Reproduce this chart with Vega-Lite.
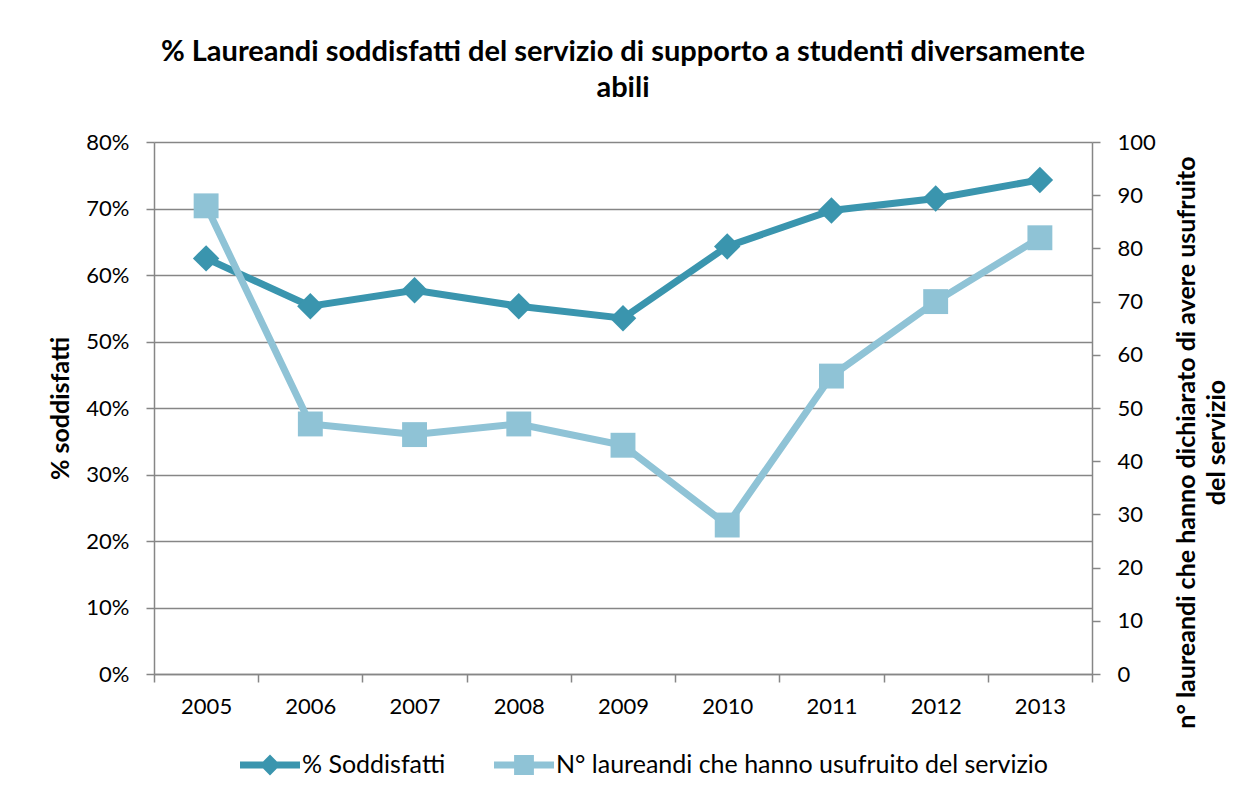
{
  "$schema": "https://vega.github.io/schema/vega-lite/v6.json",
  "autosize": {"type": "none"},
  "width": 938,
  "height": 532,
  "padding": {"left": 154, "top": 142, "right": 162, "bottom": 124},
  "background": "white",
  "config": {
    "font": "Lato",
    "view": {"stroke": null},
    "axis": {
      "labelFont": "Lato", "labelFontSize": 22, "labelColor": "#000000",
      "titleFont": "Lato", "titleFontSize": 25, "titleFontWeight": "bold", "titleColor": "#000000",
      "domainColor": "#868686", "domainWidth": 1.5,
      "tickColor": "#868686", "tickWidth": 1.5, "tickSize": 8,
      "gridColor": "#868686", "gridWidth": 1.5
    }
  },
  "title": {
    "text": ["% Laureandi soddisfatti del servizio di supporto a studenti diversamente", "abili"],
    "font": "Lato", "fontSize": 29, "fontWeight": "bold", "color": "#000000",
    "lineHeight": 36, "anchor": "middle", "frame": "group", "offset": 28
  },
  "data": {
    "values": [
      {"anno": "2005", "soddisfatti": 0.625, "laureandi": 88},
      {"anno": "2006", "soddisfatti": 0.553, "laureandi": 47},
      {"anno": "2007", "soddisfatti": 0.577, "laureandi": 45},
      {"anno": "2008", "soddisfatti": 0.553, "laureandi": 47},
      {"anno": "2009", "soddisfatti": 0.535, "laureandi": 43},
      {"anno": "2010", "soddisfatti": 0.643, "laureandi": 28},
      {"anno": "2011", "soddisfatti": 0.697, "laureandi": 56},
      {"anno": "2012", "soddisfatti": 0.715, "laureandi": 70},
      {"anno": "2013", "soddisfatti": 0.743, "laureandi": 82}
    ]
  },
  "encoding": {
    "x": {
      "field": "anno", "type": "ordinal",
      "scale": {"paddingInner": 0, "paddingOuter": 0},
      "axis": {"title": null, "labelAngle": 0, "tickBand": "extent", "labelPadding": 14, "grid": false}
    }
  },
  "layer": [
    {
      "layer": [
        {
          "mark": {"type": "line", "strokeWidth": 7},
          "encoding": {
            "y": {"field": "soddisfatti", "type": "quantitative",
              "scale": {"domain": [0, 0.8], "nice": false},
              "axis": {"title": "% soddisfatti", "format": ".0%", "values": [0, 0.1, 0.2, 0.3, 0.4, 0.5, 0.6, 0.7, 0.8], "grid": true, "labelPadding": 17, "titlePadding": 12}},
            "color": {
              "datum": "% Soddisfatti", "type": "nominal",
              "scale": {"domain": ["% Soddisfatti", "N° laureandi che hanno usufruito del servizio"], "range": ["#3A95AE", "#8FC3D6"]},
              "legend": {
                "title": null, "orient": "none", "direction": "horizontal", "legendX": 86, "legendY": 593,
                "labelFont": "Lato", "labelFontSize": 25, "labelColor": "#000000", "labelOffset": 2, "labelLimit": 0,
                "columnPadding": 48, "symbolSize": 3600, "symbolType": "circle",
                "encode": {
                  "symbols": {
                    "update": {
                      "shape": {"signal": "datum.value === '% Soddisfatti' ? 'M-1,-0.12L-0.23,-0.12L0,-0.35L0.23,-0.12L1,-0.12L1,0.12L0.23,0.12L0,0.35L-0.23,0.12L-1,0.12Z' : 'M-1,-0.12L-0.33,-0.12L-0.33,-0.33L0.33,-0.33L0.33,-0.12L1,-0.12L1,0.12L0.33,0.12L0.33,0.33L-0.33,0.33L-0.33,0.12L-1,0.12Z'"},
                      "fill": {"signal": "datum.value === '% Soddisfatti' ? '#3A95AE' : '#8FC3D6'"},
                      "fillOpacity": {"value": 1},
                      "strokeWidth": {"value": 0},
                      "size": {"value": 3600}
                    }
                  }
                }
              }
            }
          }
        },
        {
          "mark": {"type": "point", "shape": "diamond", "filled": true, "size": 700, "opacity": 1},
          "encoding": {
            "y": {"field": "soddisfatti", "type": "quantitative"},
            "color": {"datum": "% Soddisfatti", "type": "nominal"}
          }
        }
      ]
    },
    {
      "layer": [
        {
          "mark": {"type": "line", "strokeWidth": 7},
          "encoding": {
            "y": {"field": "laureandi", "type": "quantitative",
              "scale": {"domain": [0, 100], "nice": false},
              "axis": {"orient": "right", "title": ["n° laureandi che hanno dichiarato di avere  usufruito", "del servizio"], "values": [0, 10, 20, 30, 40, 50, 60, 70, 80, 90, 100], "grid": false, "labelPadding": 17, "titlePadding": 14, "titleAngle": 270, "titleY": 300, "titleLineHeight": 30}},
            "color": {"datum": "N° laureandi che hanno usufruito del servizio", "type": "nominal"}
          }
        },
        {
          "mark": {"type": "point", "shape": "square", "filled": true, "size": 620, "opacity": 1},
          "encoding": {
            "y": {"field": "laureandi", "type": "quantitative"},
            "color": {"datum": "N° laureandi che hanno usufruito del servizio", "type": "nominal"}
          }
        }
      ]
    }
  ],
  "resolve": {"scale": {"y": "independent"}}
}
